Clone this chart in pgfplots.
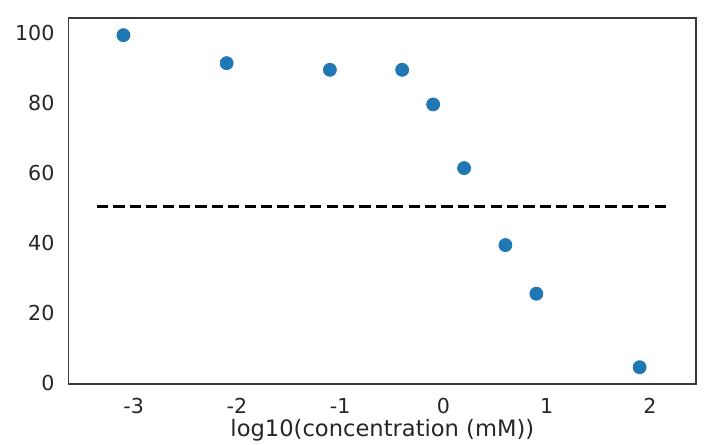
\documentclass[border=0pt]{standalone}
\usepackage{fontspec}
\setmainfont{DejaVu Sans}
\usepackage{pgfplots}
\pgfplotsset{compat=1.18}
\definecolor{mplblue}{HTML}{1F77B4}
\definecolor{spine}{HTML}{3A3A3A}
\definecolor{ticktext}{HTML}{262626}
\begin{document}
\begin{tikzpicture}
% page = 720x445 px at 0.5pt per px
\useasboundingbox (-34.35pt,-30.5pt) rectangle (325.65pt,192pt);
\begin{axis}[
    scale only axis,
    width=313.65pt, height=183pt,
    at={(0,0)}, anchor=south west,
    xmin=-3.63, xmax=2.446,
    ymin=-0.2, ymax=104.4,
    xtick={-3,-2,-1,0,1,2},
    ytick={0,20,40,60,80,100},
    major tick length=0pt,
    axis line style={spine, line width=0.7pt},
    tick label style={font=\fontsize{10.3}{12}\selectfont, text=ticktext},
    xticklabel style={yshift=-3.6pt},
    yticklabel style={xshift=-3.6pt},
    /pgf/number format/assume math mode=true,
    xlabel={log10(concentration (mM))},
    xlabel style={at={(axis description cs:0.5,0)}, anchor=base,
        yshift=-26.35pt, font=\fontsize{11.3}{13}\selectfont, text=ticktext},
]
\addplot[only marks, mark=*, mark size=3.25pt,
    mark options={fill=mplblue, draw=mplblue}] coordinates {
    (-3.1, 99.5) (-2.1, 91.5) (-1.1, 89.6) (-0.4, 89.6) (-0.1, 79.7)
    (0.2, 61.5) (0.6, 39.5) (0.9, 25.6) (1.9, 4.6)
};
\addplot[black, line width=1.4pt, dash pattern=on 5.6pt off 2.6pt]
    coordinates {(-3.355, 50.6) (2.157, 50.6)};
\end{axis}
\end{tikzpicture}
\end{document}
